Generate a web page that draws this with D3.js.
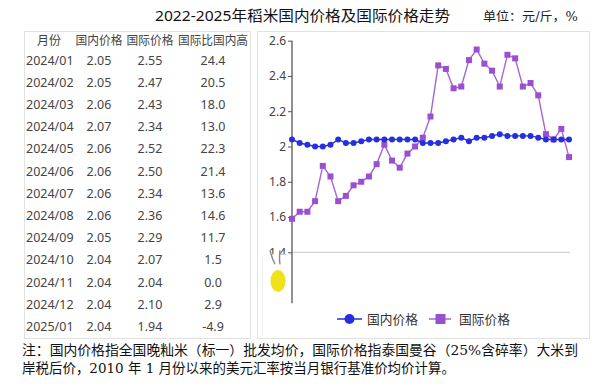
<!DOCTYPE html>
<html><head><meta charset="utf-8">
<script src="https://cdn.jsdelivr.net/npm/d3@7"></script>
<style>body{margin:0;background:#fff}svg{display:block}</style>
</head><body>
<svg id="c" width="612" height="385"></svg>
<script>
const months = ["2022/01","2022/02","2022/03","2022/04","2022/05","2022/06","2022/07","2022/08","2022/09","2022/10","2022/11","2022/12",
"2023/01","2023/02","2023/03","2023/04","2023/05","2023/06","2023/07","2023/08","2023/09","2023/10","2023/11","2023/12",
"2024/01","2024/02","2024/03","2024/04","2024/05","2024/06","2024/07","2024/08","2024/09","2024/10","2024/11","2024/12","2025/01"];
const domestic = [2.04,2.02,2.01,2.00,2.00,2.01,2.04,2.02,2.02,2.03,2.04,2.04,
2.04,2.04,2.04,2.04,2.04,2.02,2.02,2.02,2.03,2.04,2.05,2.03,
2.05,2.05,2.06,2.07,2.06,2.06,2.06,2.06,2.05,2.04,2.04,2.04,2.04];
const international = [1.59,1.63,1.63,1.69,1.89,1.83,1.69,1.72,1.78,1.80,1.83,1.90,
2.01,1.92,1.88,1.96,2.00,2.05,2.17,2.46,2.44,2.33,2.34,2.49,
2.55,2.47,2.43,2.34,2.52,2.50,2.34,2.36,2.29,2.07,2.04,2.10,1.94];
const tableHeaders = ["月份","国内价格","国际价格","国际比国内高"];
const tableMonths = ["2024/01","2024/02","2024/03","2024/04","2024/05","2024/06","2024/07","2024/08","2024/09","2024/10","2024/11","2024/12","2025/01"];
const tableDomestic = ["2.05","2.05","2.06","2.07","2.06","2.06","2.06","2.06","2.05","2.04","2.04","2.04","2.04"];
const tableIntl = ["2.55","2.47","2.43","2.34","2.52","2.50","2.34","2.36","2.29","2.07","2.04","2.10","1.94"];
const tableDiff = ["24.4","20.5","18.0","13.0","22.3","21.4","13.6","14.6","11.7","1.5","0.0","2.9","-4.9"];
const yTicks = [1.4,1.6,1.8,2.0,2.2,2.4,2.6];
const seriesNames = ["国内价格","国际价格"];
const title = "2022-2025年稻米国内价格及国际价格走势";
const unit = "单位：元/斤，%";
const notes = ["注：国内价格指全国晚籼米（标一）批发均价，国际价格指泰国曼谷（25%含碎率）大米到",
"岸税后价，2010 年 1 月份以来的美元汇率按当月银行基准价均价计算。"];

const svg = d3.select("#c");
const sans = "'Noto Sans','Noto Sans CJK SC',sans-serif";
const serif = "'DejaVu Serif','Noto Sans CJK SC',serif";
const blue = "#2430e0", purple = "#9a4fd0";

// title
svg.append("text").attr("x",155).attr("y",21).attr("font-family",sans).attr("font-size",15)
  .attr("fill","#111").attr("textLength",295).attr("lengthAdjust","spacingAndGlyphs").text(title);
svg.append("text").attr("x",483).attr("y",21).attr("font-family",serif).attr("font-size",12.5)
  .attr("fill","#222").attr("textLength",95).attr("lengthAdjust","spacingAndGlyphs").text(unit);

// panels
svg.append("rect").attr("x",24.5).attr("y",31.5).attr("width",226).attr("height",307)
  .attr("fill","none").attr("stroke","#e2e2e2");
svg.append("rect").attr("x",257.5).attr("y",31.5).attr("width",332).attr("height",307)
  .attr("fill","none").attr("stroke","#e2e2e2");

// table
const colX = [49,99,150,213];
const tg = svg.append("g").attr("font-family",sans).attr("fill","#444").attr("font-size",12.5);
const headerW = [24,47,47,70];
tableHeaders.forEach((h,i)=>{
  tg.append("text").attr("x",colX[i]).attr("y",44.5).attr("text-anchor","middle")
    .attr("textLength",headerW[i]).attr("lengthAdjust","spacingAndGlyphs").text(h);
});
const rowY = d3.scaleLinear().domain([0,12]).range([64.5,331]);
tableMonths.forEach((m,i)=>{
  const y = rowY(i);
  tg.append("text").attr("x",26).attr("y",y).text(m);
  tg.append("text").attr("x",colX[1]).attr("y",y).attr("text-anchor","middle").text(tableDomestic[i]);
  tg.append("text").attr("x",colX[2]).attr("y",y).attr("text-anchor","middle").text(tableIntl[i]);
  tg.append("text").attr("x",colX[3]).attr("y",y).attr("text-anchor","middle").text(tableDiff[i]);
});

// chart
const x = d3.scalePoint().domain(months).range([292,569]);
const y = d3.scaleLinear().domain([1.4,2.6]).range([252.3,40.7]);

// baseline grid at 1.4
svg.append("line").attr("x1",x.range()[0]).attr("x2",x.range()[1]+1).attr("y1",y(1.4)).attr("y2",y(1.4))
  .attr("stroke","#c8c8c8").attr("stroke-width",1);

const yAxis = d3.axisLeft(y).tickValues(yTicks).tickSize(4).tickFormat(d=>String(+d.toFixed(1)));
const ga = svg.append("g").attr("transform",`translate(${x.range()[0]},0)`).call(yAxis);
ga.select(".domain").remove();
ga.append("line").attr("x1",0).attr("x2",0).attr("y1",y(2.6)).attr("y2",y(1.4)+51).attr("stroke","#555").attr("stroke-width",1.3);
ga.selectAll(".tick line").attr("stroke","#555");
ga.selectAll(".tick text").attr("font-family",sans).attr("font-size",12).attr("fill","#444").attr("x",-6);

// blob covering lower 1.4 label
svg.append("rect").attr("x",262).attr("y",y(1.4)+2).attr("width",28).attr("height",50).attr("fill","#fff");
svg.append("line").attr("x1",262.5).attr("x2",262.5).attr("y1",y(1.4)+4).attr("y2",335).attr("stroke","#eee");
svg.append("path").attr("d",`M270,${y(1.4)-2} q2,8 5,14 M280,${y(1.4)-2} q-1,8 0,14`)
  .attr("stroke","#888").attr("fill","none").attr("stroke-width",1.4);
svg.append("ellipse").attr("cx",278).attr("cy",281).attr("rx",7.5).attr("ry",11)
  .attr("fill","#eee21a");

const line = d3.line().x((d,i)=>x(months[i])).y(d=>y(d));
svg.append("path").datum(international).attr("d",line).attr("fill","none").attr("stroke","#a865d6").attr("stroke-width",1.4);
svg.append("path").datum(domestic).attr("d",line).attr("fill","none").attr("stroke",blue).attr("stroke-width",1.4);

svg.append("g").selectAll("rect").data(international).join("rect")
  .attr("x",(d,i)=>x(months[i])-3).attr("y",d=>y(d)-3).attr("width",6).attr("height",6).attr("fill",purple);
svg.append("g").selectAll("circle").data(domestic).join("circle")
  .attr("cx",(d,i)=>x(months[i])).attr("cy",d=>y(d)).attr("r",3).attr("fill",blue);

// legend
const lg = svg.append("g").attr("font-family",sans).attr("font-size",13).attr("fill","#333");
lg.append("line").attr("x1",337).attr("x2",362).attr("y1",319).attr("y2",319).attr("stroke",blue).attr("stroke-width",1.5);
lg.append("circle").attr("cx",349.5).attr("cy",319).attr("r",5).attr("fill",blue);
lg.append("text").attr("x",367).attr("y",323.5).attr("textLength",51).attr("lengthAdjust","spacingAndGlyphs").text(seriesNames[0]);
lg.append("line").attr("x1",429).attr("x2",451).attr("y1",319).attr("y2",319).attr("stroke","#a865d6").attr("stroke-width",1.5);
lg.append("rect").attr("x",435.5).attr("y",314).attr("width",10).attr("height",10).attr("fill",purple);
lg.append("text").attr("x",459).attr("y",323.5).attr("textLength",51).attr("lengthAdjust","spacingAndGlyphs").text(seriesNames[1]);

// notes
svg.append("text").attr("x",22).attr("y",355).attr("font-family",serif).attr("font-size",13.5).attr("fill","#111")
  .attr("textLength",556).attr("lengthAdjust","spacingAndGlyphs").text(notes[0]);
svg.append("text").attr("x",22).attr("y",373).attr("font-family",serif).attr("font-size",13.5).attr("fill","#111")
  .attr("textLength",433).attr("lengthAdjust","spacingAndGlyphs").text(notes[1]);
</script>
</body></html>
